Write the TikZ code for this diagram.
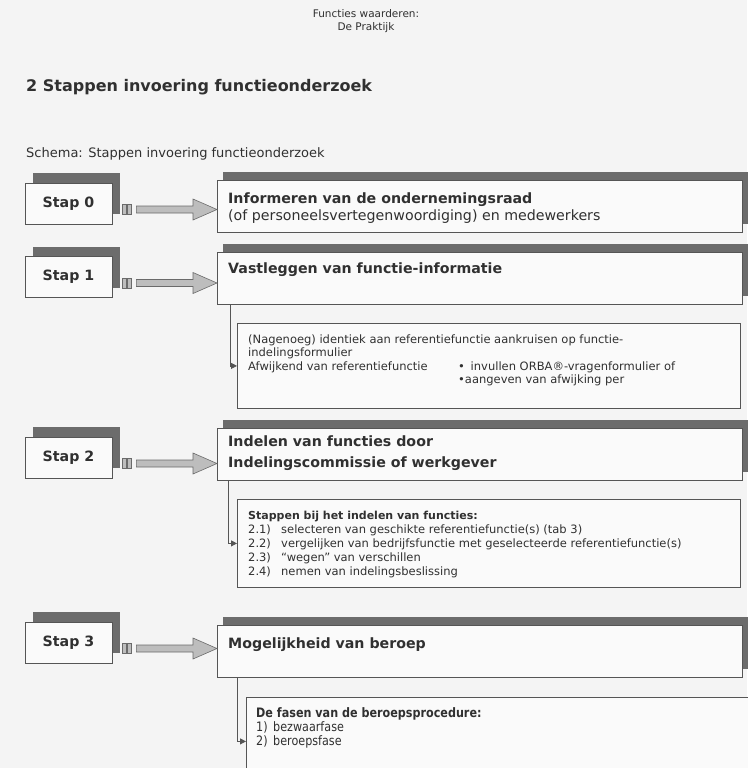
\documentclass[tikz,border=0pt]{standalone}
\usepackage{fontspec}
\setmainfont{DejaVu Sans}
\newfontfamily\condfont[FakeStretch=0.86]{DejaVu Sans}
\usetikzlibrary{shadows,arrows.meta,calc}
\definecolor{ink}{HTML}{303030}
\definecolor{boxline}{HTML}{555555}
\definecolor{shade}{HTML}{6C6C6C}
\definecolor{boxfill}{HTML}{FAFAFA}
\definecolor{bgc}{HTML}{F4F4F4}
\definecolor{arrowfill}{HTML}{BDBDBD}
\definecolor{arrowline}{HTML}{6A6A6A}
\newcommand\mybig{\fontsize{14.2}{17}\selectfont}
\newcommand\mysmall{\fontsize{11.5}{13.5}\selectfont}
\newcommand\fatarrow[2]{%
  \coordinate (#1-st) at ([xshift=10pt,yshift=-6pt]#1.east);
  \coordinate (#1-tip) at (#2.west |- #1-st);
  \draw[arrowst] ($(#1-st)+(0,-5)$) rectangle ($(#1-st)+(4,5)$);
  \draw[arrowst] ($(#1-st)+(5,-5)$) rectangle ($(#1-st)+(9,5)$);
  \draw[arrowst] ($(#1-st)+(14,-3.5)$) -- ($(#1-tip)+(-24,-3.5)$) -- ($(#1-tip)+(-24,-10.5)$) -- (#1-tip) -- ($(#1-tip)+(-24,10.5)$) -- ($(#1-tip)+(-24,3.5)$) -- ($(#1-st)+(14,3.5)$) -- cycle;
}
\tikzset{
  stapbox/.style={draw=boxline, fill=boxfill, line width=0.8pt, minimum width=87pt, minimum height=41pt, inner sep=0pt, text=ink, font=\mybig\bfseries,
    general shadow={fill=shade, shadow xshift=8pt, shadow yshift=10pt}},
  bigbox/.style={draw=boxline, fill=boxfill, line width=0.8pt, minimum width=525pt, minimum height=52pt, inner sep=0pt, anchor=north west,
    general shadow={fill=shade, shadow xshift=6pt, shadow yshift=8pt}},
  innerbox/.style={draw=boxline, fill=boxfill, line width=0.8pt, inner sep=0pt, anchor=north west},
  bigtxt/.style={anchor=base west, inner sep=0pt, text=ink, font=\mybig},
  smtxt/.style={anchor=base west, inner sep=0pt, text=ink, font=\mysmall},
  condtxt/.style={anchor=base west, inner sep=0pt, text=ink, font=\condfont\fontsize{13}{15}\selectfont},
  arrowst/.style={fill=arrowfill, draw=arrowline, line width=0.6pt},
  conn/.style={draw=boxline, line width=0.8pt, -{Triangle[length=6pt,width=6pt]}}
}
\begin{document}
\begin{tikzpicture}[x=1pt,y=-1pt]
\fill[bgc] (0,0) rectangle (747,768);
\useasboundingbox (0,0) rectangle (747,768);

% header and titles
\node[font=\fontsize{10.5}{13.5}\selectfont, text=ink, align=center] (hdr) at (366,21) {Functies waarderen:\\De Praktijk};
\node[anchor=base west, inner sep=0pt, text=ink, font=\bfseries\fontsize{16}{19}\selectfont] (title) at (26,91) {2 Stappen invoering functieonderzoek};
\node[anchor=base west, inner sep=0pt, text=ink, font=\fontsize{13}{15}\selectfont] (schema) at (26,157) {Schema: Stappen invoering functieonderzoek};

% step boxes
\node[stapbox] (s0) at (68.5,203.5) {Stap 0};
\node[stapbox] (s1) at (68.5,277) {Stap 1};
\node[stapbox] (s2) at (68.5,457.5) {Stap 2};
\node[stapbox] (s3) at (68.5,642.5) {Stap 3};

% big boxes
\node[bigbox] (b0) at (217,180) {};
\node[bigbox] (b1) at (217,252) {};
\node[bigbox] (b2) at (217,428) {};
\node[bigbox] (b3) at (217,625) {};

% arrows
\fatarrow{s0}{b0}
\fatarrow{s1}{b1}
\fatarrow{s2}{b2}
\fatarrow{s3}{b3}

% big box texts
\node[bigtxt, font=\mybig\bfseries] (b0t1) at (228,203) {Informeren van de ondernemingsraad};
\node[bigtxt] (b0t2) at (228,220) {(of personeelsvertegenwoordiging) en medewerkers};
\node[bigtxt, font=\mybig\bfseries] (b1t1) at (228,273) {Vastleggen van functie-informatie};
\node[bigtxt, font=\mybig\bfseries] (b2t1) at (228,446) {Indelen van functies door};
\node[bigtxt, font=\mybig\bfseries] (b2t2) at (228,467) {Indelingscommissie of werkgever};
\node[bigtxt, font=\mybig\bfseries] (b3t1) at (228,648) {Mogelijkheid van beroep};

% inner boxes
\node[innerbox, minimum width=503pt, minimum height=85pt] (i1) at (237,323) {};
\node[innerbox, minimum width=503pt, minimum height=88pt] (i2) at (237,499) {};
\node[innerbox, minimum width=514pt, minimum height=88pt] (i3) at (246,697) {};

% connectors
\draw[conn] ([xshift=13pt]b1.south west) |- (i1.west);
\draw[conn] ([xshift=11pt]b2.south west) |- (i2.west);
\draw[conn] ([xshift=20pt]b3.south west) |- (i3.west);

% inner box 1 text
\node[smtxt] (i1a) at (248,343) {(Nagenoeg) identiek aan referentiefunctie aankruisen op functie-};
\node[smtxt] (i1b) at (248,356.5) {indelingsformulier};
\node[smtxt] (i1c) at (248,370) {Afwijkend van referentiefunctie};
\node[smtxt] (i1d) at (458,370) {•\enspace invullen ORBA®-vragenformulier of};
\node[smtxt] (i1e) at (458,383.5) {•aangeven van afwijking per};

% inner box 2 text
\node[smtxt, font=\fontsize{11}{13.5}\selectfont\bfseries] (i2h) at (248,519) {Stappen bij het indelen van functies:};
\node[smtxt] (i2n1) at (248,533) {2.1)};
\node[smtxt] (i2n2) at (248,547) {2.2)};
\node[smtxt] (i2n3) at (248,561) {2.3)};
\node[smtxt] (i2n4) at (248,575) {2.4)};
\node[smtxt] (i2a) at (281,533) {selecteren van geschikte referentiefunctie(s) (tab 3)};
\node[smtxt] (i2b) at (281,547) {vergelijken van bedrijfsfunctie met geselecteerde referentiefunctie(s)};
\node[smtxt] (i2c) at (281,561) {“wegen” van verschillen};
\node[smtxt] (i2d) at (281,575) {nemen van indelingsbeslissing};

% inner box 3 text
\node[condtxt, font=\condfont\bfseries\fontsize{13}{15}\selectfont] (i3h) at (256,717) {De fasen van de beroepsprocedure:};
\node[condtxt] (i3n1) at (256,731) {1)};
\node[condtxt] (i3n2) at (256,745) {2)};
\node[condtxt] (i3a) at (273,731) {bezwaarfase};
\node[condtxt] (i3b) at (273,745) {beroepsfase};
\end{tikzpicture}
\end{document}
